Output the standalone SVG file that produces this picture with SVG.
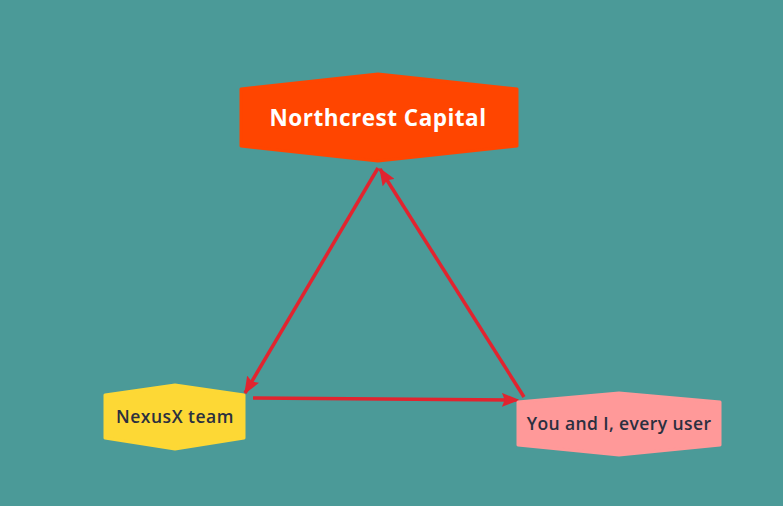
<svg xmlns="http://www.w3.org/2000/svg" width="783" height="506" viewBox="0 0 783 506">
<style>
.node{stroke-linejoin:round;stroke-width:3}
.t{font-family:"Open Sans","Liberation Sans",sans-serif;text-anchor:middle}
.edge{stroke:#e1242f;stroke-width:3.5;fill:none;marker-end:url(#ah)}
</style>
<defs>
<marker id="ah" markerWidth="5" markerHeight="4" refX="4.6" refY="2" orient="auto" markerUnits="strokeWidth">
<path d="M0,0 L5,2 L0,4 L0.8,2 Z" fill="#e1242f"/>
</marker>
</defs>
<rect width="783" height="506" fill="#4b9a98"/>
<g id="connectors">
<line class="edge" x1="378" y1="168" x2="245" y2="393"/>
<line class="edge" x1="524" y1="397" x2="380" y2="169"/>
<line class="edge" x1="253" y1="398" x2="518" y2="400"/>
</g>
<g id="northcrest">
<path class="node" d="M241,89 L378,74 L517,89 L517,146 L378,161 L241,146 Z" fill="#ff4500" stroke="#ff4500"/>
<text class="t" x="378" y="126" font-size="22.5" font-weight="700" letter-spacing="0.5" fill="#ffffff">Northcrest Capital</text>
</g>
<g id="nexusx">
<path class="node" d="M105,395 L175,385 L244,395 L244,438 L175,449 L105,438 Z" fill="#fdd835" stroke="#fdd835"/>
<text class="t" x="175" y="423" font-size="17.5" font-weight="600" letter-spacing="0.5" fill="#2b2f3f">NexusX team</text>
</g>
<g id="users">
<path class="node" d="M518,402 L619,393 L720,402 L720,445 L619,455 L518,445 Z" fill="#ff9999" stroke="#ff9999"/>
<text class="t" x="619" y="430" font-size="17.5" font-weight="600" letter-spacing="0.4" fill="#2b2f3f">You and I, every user</text>
</g>
</svg>
